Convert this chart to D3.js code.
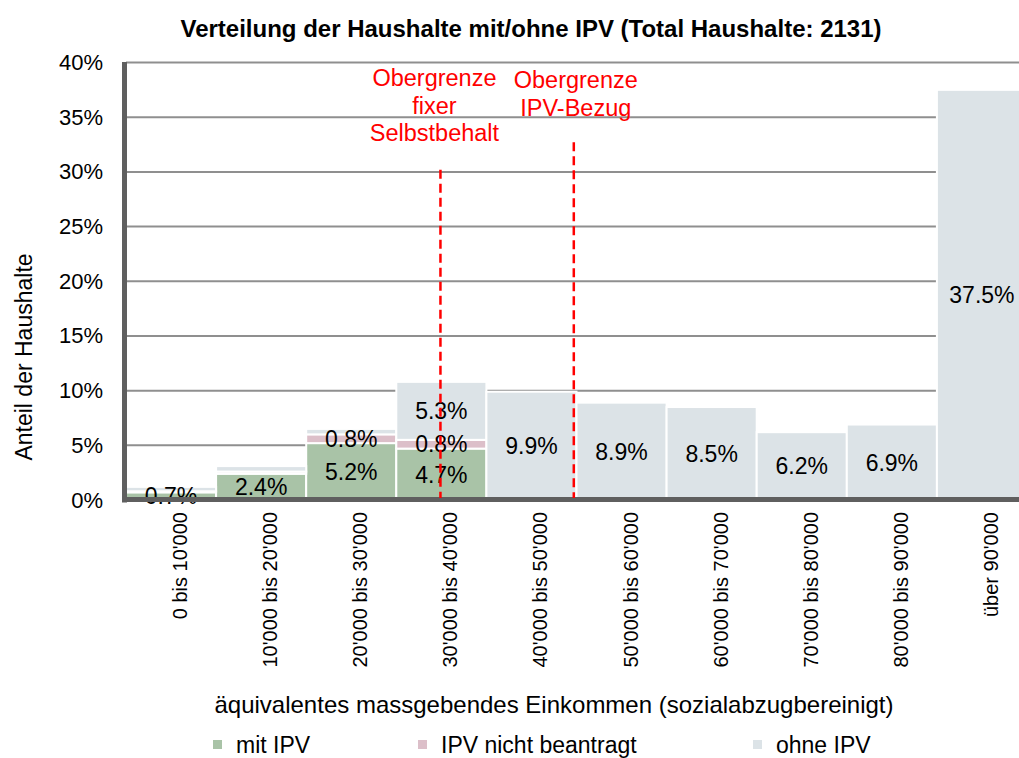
<!DOCTYPE html>
<html>
<head>
<meta charset="utf-8">
<script src="https://cdn.jsdelivr.net/npm/d3@7"></script>
<style>
  body { margin: 0; background: #fff; }
  text { font-family: "Liberation Sans", Arial, sans-serif; }
</style>
</head>
<body>
<script>
var w = 1019;
var h = 758;

// Einkommensklassen
var kategorien = ["0 bis 10'000", "10'000 bis 20'000", "20'000 bis 30'000", "30'000 bis 40'000",
  "40'000 bis 50'000", "50'000 bis 60'000", "60'000 bis 70'000", "70'000 bis 80'000",
  "80'000 bis 90'000", "über 90'000"];

// Anteile in %
var mitIPV         = [0.7, 2.4, 5.2, 4.7, 0, 0, 0, 0, 0, 0];
var nichtBeantragt = [0.1, 0.2, 0.8, 0.8, 0, 0, 0, 0, 0, 0];
var ohneIPV        = [0.4, 0.5, 0.5, 5.3, 9.9, 8.9, 8.5, 6.2, 6.9, 37.5];

var serien = ["mit IPV", "IPV nicht beantragt", "ohne IPV"];
var farben = ["#a9c3a7", "#dcbfc9", "#dce3e7"];

var yTicks = [0, 5, 10, 15, 20, 25, 30, 35, 40];

// Obergrenzen (Einkommen) mit Höhe der Linie in %
var grenzen = [
  {text: ["Obergrenze", "fixer", "Selbstbehalt"], einkommen: 34900, bis: 30.2},
  {text: ["Obergrenze", "IPV-Bezug"], einkommen: 49700, bis: 32.7}
];

var tabelle = kategorien.map(function(k, i){
  return {kat: k, "mit IPV": mitIPV[i], "IPV nicht beantragt": nichtBeantragt[i], "ohne IPV": ohneIPV[i]};
});

var links = 126, rechts = 1027, unten = 500, oben = 62.5;

var svg = d3.select("body").append("svg")
  .attr("width", w).attr("height", h);

var x = d3.scaleBand().domain(kategorien).range([links, rechts]).padding(0);
var y = d3.scaleLinear().domain([0, 40]).range([unten, oben]);
var xEink = d3.scaleLinear().domain([0, 100000]).range([links, rechts]);
var farbe = d3.scaleOrdinal().domain(serien).range(farben);

// Gitterlinien
svg.append("g")
  .selectAll("line")
  .data(yTicks.slice(1))
  .enter().append("line")
  .attr("x1", links).attr("x2", rechts)
  .attr("y1", function(d){ return y(d); })
  .attr("y2", function(d){ return y(d); })
  .attr("stroke", "#8f8f8f")
  .attr("stroke-width", 2);

// gestapelte Balken
var stapel = d3.stack().keys(serien)(tabelle);

svg.append("g")
  .selectAll("g")
  .data(stapel)
  .enter().append("g")
  .attr("fill", function(d){ return farbe(d.key); })
  .selectAll("rect")
  .data(function(d){ return d; })
  .enter().append("rect")
  .attr("x", function(d){ return x(d.data.kat); })
  .attr("width", x.bandwidth())
  .attr("y", function(d){ return y(d[1]); })
  .attr("height", function(d){ return Math.max(0, y(d[0]) - y(d[1])); })
  .attr("stroke", "#fff")
  .attr("stroke-width", 2);

// Datenbeschriftungen
svg.append("g")
  .selectAll("g")
  .data(stapel)
  .enter().append("g")
  .selectAll("text")
  .data(function(d){ return d.filter(function(s){ return s[1] - s[0] >= 0.6; }); })
  .enter().append("text")
  .attr("x", function(d){ return x(d.data.kat) + x.bandwidth() / 2; })
  .attr("y", function(d){ return y((d[0] + d[1]) / 2); })
  .attr("dy", "0.36em")
  .attr("text-anchor", "middle")
  .attr("fill", "#000")
  .style("font-size", "23px")
  .text(function(d){ return d3.format(".1f")(d[1] - d[0]) + "%"; });

// Achsenlinien
svg.append("line")
  .attr("x1", 124.5).attr("x2", 124.5)
  .attr("y1", oben - 0.5).attr("y2", unten + 2.5)
  .attr("stroke", "#5f5f5f").attr("stroke-width", 5);
svg.append("line")
  .attr("x1", 122).attr("x2", rechts)
  .attr("y1", unten - 0.5).attr("y2", unten - 0.5)
  .attr("stroke", "#5f5f5f").attr("stroke-width", 5);

// Y-Achse
var yAchse = svg.append("g")
  .attr("transform", "translate(103,0)")
  .call(d3.axisLeft(y).tickValues(yTicks).tickSize(0).tickPadding(0)
    .tickFormat(function(d){ return d + "%"; }));
yAchse.select(".domain").remove();
yAchse.selectAll("text")
  .style("font-size", "22px")
  .style("font-family", "Liberation Sans, Arial, sans-serif")
  .attr("fill", "#000");

// X-Achse
var xAchse = svg.append("g")
  .attr("transform", "translate(0," + unten + ")")
  .call(d3.axisBottom(x).tickSize(0));
xAchse.select(".domain").remove();
xAchse.selectAll("text")
  .attr("transform", "rotate(-90)")
  .attr("x", -12)
  .attr("y", 9)
  .attr("dy", "0.35em")
  .style("text-anchor", "end")
  .style("font-size", "20px")
  .style("font-family", "Liberation Sans, Arial, sans-serif")
  .attr("fill", "#000");

// Obergrenzen
var gr = svg.append("g")
  .selectAll("g")
  .data(grenzen)
  .enter().append("g");

gr.append("line")
  .attr("x1", function(d){ return xEink(d.einkommen); })
  .attr("x2", function(d){ return xEink(d.einkommen); })
  .attr("y1", function(d){ return y(d.bis); })
  .attr("y2", unten - 2)
  .attr("stroke", "#ff0000")
  .attr("stroke-width", 2.5)
  .attr("stroke-dasharray", "9,5");

gr.selectAll("text")
  .data(function(d, i){ return d.text.map(function(t, j){ return {t: t, j: j, i: i, e: d.einkommen}; }); })
  .enter().append("text")
  .attr("x", function(d){ return xEink(d.e) + (d.i === 0 ? -6 : 2); })
  .attr("y", function(d){ return (d.i === 0 ? 86 : 88) + d.j * 27.5; })
  .attr("text-anchor", "middle")
  .attr("fill", "#ff0000")
  .style("font-size", "23.5px")
  .text(function(d){ return d.t; });

// Titel
svg.append("text")
  .attr("x", 531).attr("y", 37)
  .attr("text-anchor", "middle")
  .style("font-size", "24px")
  .style("font-weight", "bold")
  .text("Verteilung der Haushalte mit/ohne IPV (Total Haushalte: 2131)");

svg.append("text")
  .attr("transform", "translate(32,357) rotate(-90)")
  .attr("text-anchor", "middle")
  .style("font-size", "23px")
  .text("Anteil der Haushalte");

svg.append("text")
  .attr("x", 554).attr("y", 713)
  .attr("text-anchor", "middle")
  .style("font-size", "24px")
  .text("äquivalentes massgebendes Einkommen (sozialabzugbereinigt)");

// Legende
var legendeX = [213, 418, 753];
var leg = svg.append("g")
  .selectAll("g")
  .data(serien)
  .enter().append("g")
  .attr("transform", function(d, i){ return "translate(" + legendeX[i] + ",740)"; });
leg.append("rect")
  .attr("width", 9).attr("height", 9)
  .attr("fill", function(d){ return farbe(d); });
leg.append("text")
  .attr("x", 23).attr("y", 13)
  .style("font-size", "23px")
  .text(function(d){ return d; });
</script>
</body>
</html>
